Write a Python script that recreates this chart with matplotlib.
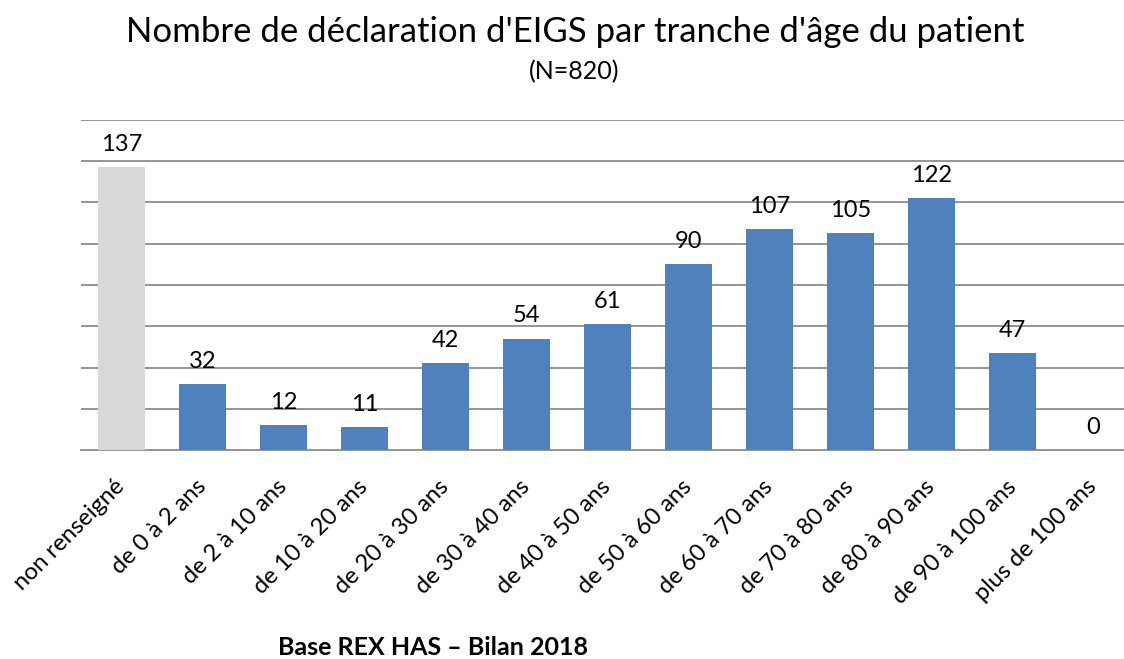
import matplotlib
matplotlib.use("Agg")
import matplotlib.pyplot as plt
import numpy as np

plt.rcParams['font.family'] = ['Lato', 'DejaVu Sans']

categories = ["non renseigné", "de 0 à 2 ans", "de 2 à 10 ans", "de 10 à 20 ans",
              "de 20 à 30 ans", "de 30 à 40 ans", "de 40 à 50 ans", "de 50 à 60 ans",
              "de 60 à 70 ans", "de 70 à 80 ans", "de 80 à 90 ans", "de 90 à 100 ans",
              "plus de 100 ans"]
values = [137, 32, 12, 11, 42, 54, 61, 90, 107, 105, 122, 47, 0]
title = "Nombre de déclaration d'EIGS par tranche d'âge du patient"
subtitle = "(N=820)"
footer = "Base REX HAS – Bilan 2018"

fig = plt.figure(figsize=(11.24, 6.59), dpi=100)
ax = fig.add_axes([0.072, 0.317, 0.937, 0.501])

colors = ["#D9D9D9"] + ["#4F81BD"] * (len(values) - 1)
x = np.arange(len(categories))
ax.bar(x, values, width=0.58, color=colors, zorder=3)

for xi, v in zip(x, values):
    ax.annotate(str(v), (xi, v), xytext=(0, 9), textcoords="offset points",
                ha="center", va="bottom", fontsize=17, color="black")

ax.set_ylim(0, 160)
ax.set_xlim(-0.5, len(categories) - 0.5)
ax.set_yticks(np.arange(20, 161, 20))
ax.yaxis.grid(True, color="#8C8C8C", linewidth=1.3, zorder=0)
ax.tick_params(axis="y", left=False, labelleft=False)
ax.tick_params(axis="x", length=0, pad=24)
for s in ["left", "right", "top"]:
    ax.spines[s].set_visible(False)
ax.spines["bottom"].set_color("#8C8C8C")
ax.spines["bottom"].set_linewidth(1.3)

ax.set_xticks(x)
ax.set_xticklabels(categories, rotation=45, ha="right", va="center",
                   rotation_mode="anchor", fontsize=17)

fig.text(0.512, 0.951, title, ha="center", va="center", fontsize=25)
fig.text(0.511, 0.891, subtitle, ha="center", va="center", fontsize=18)
fig.text(0.385, 0.018, footer, ha="center", va="center", fontsize=18, fontweight="bold")

fig.savefig("out.png", dpi=100)
